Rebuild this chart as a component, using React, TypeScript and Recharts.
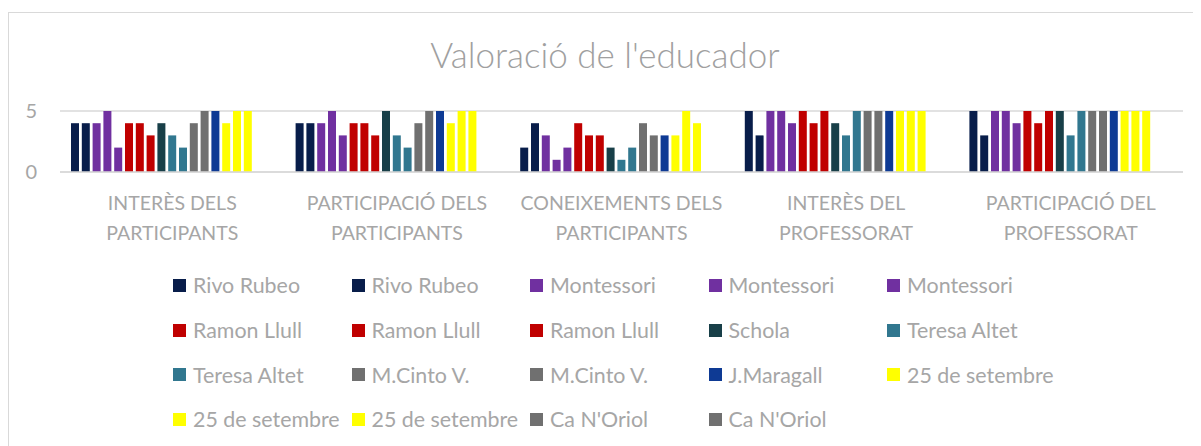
import { BarChart, Bar, XAxis, YAxis, CartesianGrid } from "recharts"

const categories = [
  ["INTERÈS DELS", "PARTICIPANTS"],
  ["PARTICIPACIÓ DELS", "PARTICIPANTS"],
  ["CONEIXEMENTS DELS", "PARTICIPANTS"],
  ["INTERÈS DEL", "PROFESSORAT"],
  ["PARTICIPACIÓ DEL", "PROFESSORAT"],
]

const seriesNames = [
  "Rivo Rubeo", "Rivo Rubeo",
  "Montessori", "Montessori", "Montessori",
  "Ramon Llull", "Ramon Llull", "Ramon Llull",
  "Schola",
  "Teresa Altet", "Teresa Altet",
  "M.Cinto V.", "M.Cinto V.",
  "J.Maragall",
  "25 de setembre", "25 de setembre", "25 de setembre",
  "Ca N'Oriol", "Ca N'Oriol",
]

const seriesColors = [
  "#081d4a", "#081d4a",
  "#7030a0", "#7030a0", "#7030a0",
  "#c00000", "#c00000", "#c00000",
  "#183f48",
  "#31778f", "#31778f",
  "#707070", "#707070",
  "#0e3a94",
  "#ffff00", "#ffff00", "#ffff00",
  "#707070", "#707070",
]

// one array per series, one value per category
const seriesValues = [
  [4, 4, 2, 5, 5],
  [4, 4, 4, 3, 3],
  [4, 4, 3, 5, 5],
  [5, 5, 1, 5, 5],
  [2, 3, 2, 4, 4],
  [4, 4, 4, 5, 5],
  [4, 4, 3, 4, 4],
  [3, 3, 3, 5, 5],
  [4, 5, 2, 4, 5],
  [3, 3, 1, 3, 3],
  [2, 2, 2, 5, 5],
  [4, 4, 4, 5, 5],
  [5, 5, 3, 5, 5],
  [5, 5, 3, 5, 5],
  [4, 4, 3, 5, 5],
  [5, 5, 5, 5, 5],
  [5, 5, 4, 5, 5],
  [0, 0, 0, 0, 0],
  [0, 0, 0, 0, 0],
]

const yTicks = [0, 5]

const data = categories.map((lines, ci) => {
  const row: Record<string, any> = { name: lines.join(" "), lines }
  seriesValues.forEach((vals, si) => {
    row["s" + si] = vals[ci]
  })
  return row
})

const FONT = "Lato, 'Open Sans', sans-serif"
const TEXT = "#a6a6a6"

const CategoryTick = (props: any) => {
  const { x, y, payload } = props
  const lines = categories[payload.index] || [payload.value]
  return (
    <text x={x} y={y} textAnchor="middle" fill={TEXT} fontSize={19.5} fontFamily={FONT}>
      {lines.map((l: string, i: number) => (
        <tspan key={i} x={x} y={y + 30 + i * 30}>
          {l}
        </tspan>
      ))}
    </text>
  )
}

export default function App() {
  return (
    <div
      style={{
        position: "relative",
        top: 4,
        width: 1200,
        height: 440,
        border: "1px solid #d9d9d9",
        background: "#fff",
      }}
    >
      <div
        style={{
          position: "absolute",
          left: 0,
          top: 20,
          width: 1192,
          textAlign: "center",
          fontFamily: FONT,
          fontSize: 35,
          color: "#a0a0a0",
          fontWeight: 300,
        }}
      >
        Valoració de l'educador
      </div>
      <BarChart
        width={1200}
        height={440}
        data={data}
        margin={{ top: 98, right: 26, left: 0, bottom: 221 }}
        barGap={2.8}
        barCategoryGap={0}
      >
        <CartesianGrid vertical={false} stroke="#d9d9d9" strokeWidth={1.5} />
        <XAxis
          dataKey="name"
          axisLine={{ stroke: "#d9d9d9", strokeWidth: 1.5 }}
          tickLine={false}
          tick={<CategoryTick />}
          interval={0}
          height={60}
        />
        <YAxis
          domain={[0, 5]}
          ticks={yTicks}
          axisLine={false}
          tickLine={false}
          tickSize={0}
          tickMargin={23}
          width={51}
          tick={{ fill: TEXT, fontSize: 20, fontFamily: FONT }}
        />
        {seriesValues.map((_, si) => (
          <Bar
            key={si}
            dataKey={"s" + si}
            name={seriesNames[si]}
            fill={seriesColors[si]}
            barSize={8}
            isAnimationActive={false}
          />
        ))}
      </BarChart>
      <div
        style={{
          position: "absolute",
          left: 164,
          top: 250,
          width: 900,
          display: "flex",
          flexWrap: "wrap",
          fontFamily: FONT,
          fontSize: 21.4,
          color: TEXT,
        }}
      >
        {seriesNames.map((n, i) => (
          <div
            key={i}
            style={{ width: 178.5, height: 44.7, display: "flex", alignItems: "center", whiteSpace: "nowrap" }}
          >
            <span
              style={{ width: 13, height: 13, background: seriesColors[i], marginRight: 7, flexShrink: 0 }}
            />
            {n}
          </div>
        ))}
      </div>
    </div>
  )
}
